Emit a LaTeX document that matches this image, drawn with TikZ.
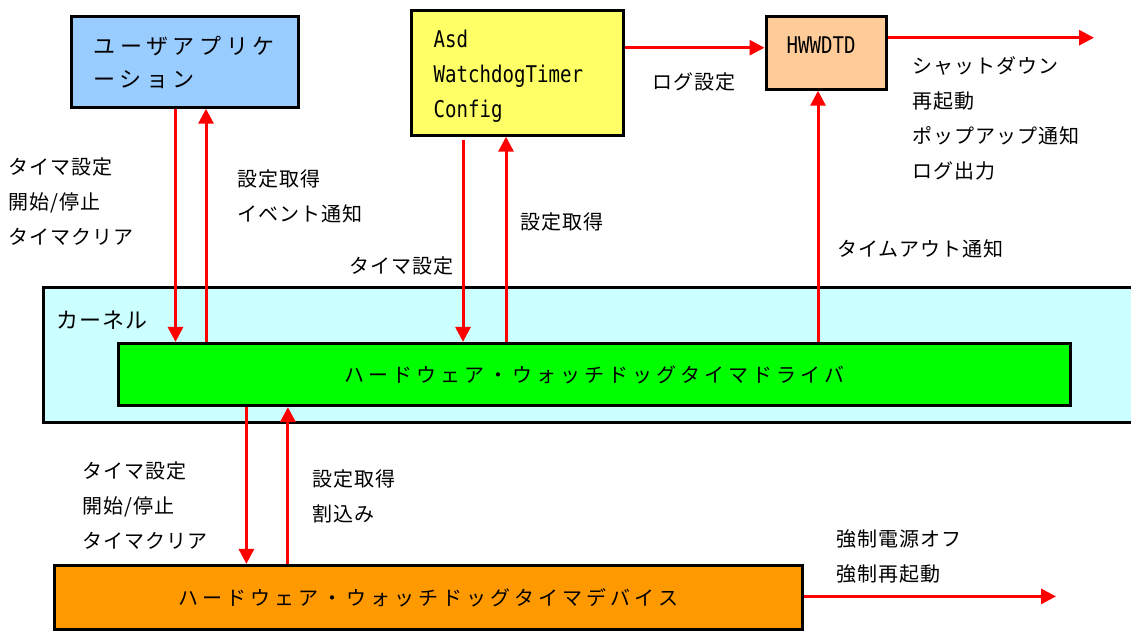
\documentclass[tikz,border=0pt]{standalone}
\usepackage{fontspec}
\setmainfont{Noto Sans CJK JP}
\newfontfamily\jplab{Noto Sans CJK JP}[LetterSpace=5]
\newfontfamily\jpbox{Noto Sans CJK JP}[LetterSpace=20]
\newfontfamily\jpapp{Noto Sans CJK JP}[LetterSpace=21]
\newfontfamily\monof{DejaVu Sans Mono}[FakeStretch=0.83]
\usetikzlibrary{arrows.meta}
\definecolor{appblue}{HTML}{99CCFF}
\definecolor{asdyellow}{HTML}{FFFF66}
\definecolor{hwpeach}{HTML}{FFCC99}
\definecolor{kerncyan}{HTML}{CCFFFF}
\definecolor{drvgreen}{HTML}{00FF00}
\definecolor{devorange}{HTML}{FF9900}
\begin{document}
\begin{tikzpicture}[x=1pt,y=-1pt,
  box/.style={draw=black,line width=3.2pt,inner sep=0pt,anchor=north west},
  arr/.style={draw=red,line width=3pt,-{Triangle[length=15pt,width=15pt]}},
  lab/.style={inner sep=0pt,anchor=north west,align=left,font=\jplab\fontsize{20}{35}\selectfont},
  labone/.style={inner sep=0pt,anchor=west,font=\jplab\fontsize{20}{35}\selectfont}]
\useasboundingbox (0,0) rectangle (1131,632);
% boxes
\node[box,fill=kerncyan] (kern) at (41.5,285.5)
  {\parbox[b][135pt][t]{1098.5pt}{\jplab\fontsize{22}{30}\selectfont\raggedright\hspace*{13.5pt}\rule{0pt}{40.9pt}カーネル}};
\node[box,fill=drvgreen,anchor=center,minimum width=952pt,minimum height=62pt,
  font=\jpbox\fontsize{20}{24}\selectfont] (drv) at (594.5,374.5) {ハードウェア・ウォッチドッグタイマドライバ};
\node[box,fill=devorange,anchor=center,minimum width=748pt,minimum height=64pt,
  font=\jpbox\fontsize{20}{24}\selectfont] (dev) at (428.5,597.5) {ハードウェア・ウォッチドッグタイマデバイス};
\node[box,fill=appblue] (app) at (69.5,14.5)
  {\parbox[b][91pt][t]{227pt}{\jpapp\fontsize{22}{33}\selectfont\raggedright\hspace*{22.5pt}\rule{0pt}{37.9pt}ユーザアプリケ\\\hspace*{22.5pt}ーション}};
\node[box,fill=asdyellow] (asd) at (409.5,8.5)
  {\parbox[b][125pt][t]{212pt}{\monof\fontsize{23}{35}\selectfont\raggedright\hspace*{22.5pt}\rule{0pt}{36.9pt}Asd\\\hspace*{22.5pt}WatchdogTimer\\\hspace*{22.5pt}Config}};
\node[box,fill=hwpeach] (hw) at (764.5,14.5)
  {\parbox[b][73pt][t]{120pt}{\monof\fontsize{23}{35}\selectfont\raggedright\hspace*{20.5pt}\rule{0pt}{36.9pt}HWWDTD}};
% connector points
\coordinate (a1) at ([xshift=106pt]app.south west);
\coordinate (a2) at ([xshift=136.5pt]app.south west);
\coordinate (b1) at ([xshift=53.5pt,yshift=-3pt]asd.south west);
\coordinate (b2) at ([xshift=96.5pt]asd.south west);
\coordinate (c1) at ([xshift=53.5pt]hw.south west);
\coordinate (d1) at ([yshift=-39.2pt]asd.north east);
\coordinate (e1) at ([yshift=-23.2pt]hw.north east);
\coordinate (e2) at (1094,37.7);
\coordinate (f1) at ([xshift=129.5pt]drv.south west);
\coordinate (f2) at ([xshift=171pt]drv.south west);
\coordinate (g1) at ([yshift=-32.5pt]dev.north east);
\coordinate (g2) at (1056,598);
% connectors
\draw[arr] (a1) -- (a1 |- drv.north);
\draw[arr] (a2 |- drv.north) -- (a2);
\draw[arr] (b1) -- (b1 |- drv.north);
\draw[arr] (b2 |- drv.north) -- (b2);
\draw[arr] (c1 |- drv.north) -- (c1);
\draw[arr] (d1) -- (d1 -| hw.west);
\draw[arr] (e1) -- (e1 -| e2);
\draw[arr] (f1) -- (f1 |- dev.north);
\draw[arr] (f2 |- dev.north) -- (f2);
\draw[arr] (g1) -- (g1 -| g2);
% labels
\node[lab] (l1) at (8,156.6) {\rule{0pt}{18pt}タイマ設定\\開始/停止\\タイマクリア};
\node[lab] (l2) at (237,168.6) {\rule{0pt}{18pt}設定取得\\イベント通知};
\node[labone] (l3) at (349,266) {タイマ設定};
\node[labone] (l4) at (520.7,222) {設定取得};
\node[labone] (l5) at (652,82) {ログ設定};
\node[lab] (l6) at (912,55.6) {\rule{0pt}{18pt}シャットダウン\\再起動\\ポップアップ通知\\ログ出力};
\node[labone] (l7) at (837,249) {タイムアウト通知};
\node[lab] (l8) at (82,460.6) {\rule{0pt}{18pt}タイマ設定\\開始/停止\\タイマクリア};
\node[lab] (l9) at (312,468.6) {\rule{0pt}{18pt}設定取得\\割込み};
\node[lab] (l10) at (836,528.6) {\rule{0pt}{18pt}強制電源オフ\\強制再起動};
\end{tikzpicture}
\end{document}
